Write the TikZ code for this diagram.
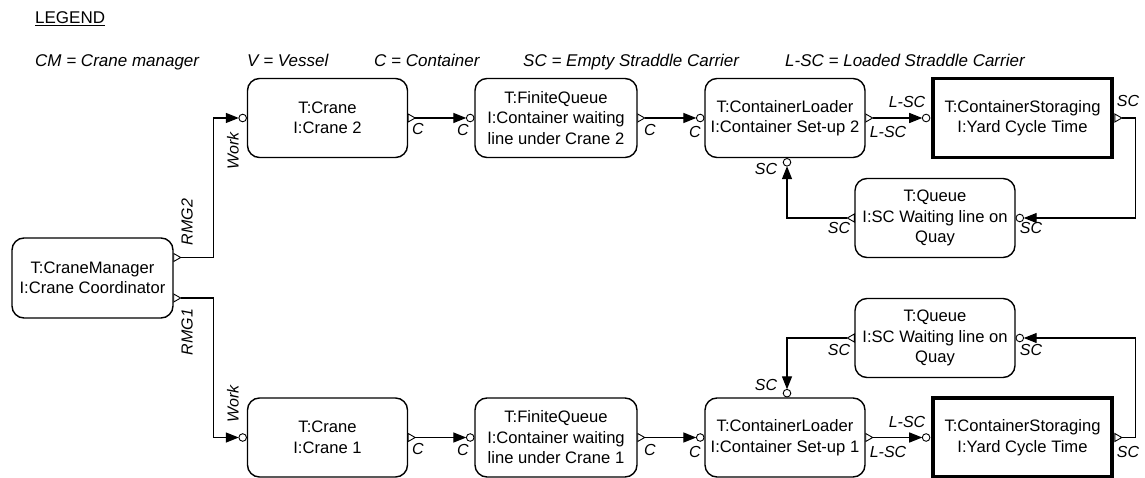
\documentclass[tikz,border=0pt]{standalone}
\usepackage{fontspec}
\setmainfont{Liberation Sans}
\usetikzlibrary{calc,arrows.meta}

\tikzset{
  box/.style={draw, line width=1.4pt, rounded corners=12pt, minimum width=160pt,
    minimum height=79pt, inner sep=0pt, align=center,
    font=\fontsize{16.6}{20.5}\selectfont},
  storebox/.style={box, sharp corners, line width=3.2pt, minimum width=179pt},
  port/.style={draw, line width=0.9pt, fill=white},
  conn/.style={draw, line width=1.3pt, -{Triangle[length=13pt,width=10pt]}},
  lbl/.style={font=\fontsize{16}{16}\selectfont\itshape, inner sep=0pt},
  legendtxt/.style={font=\fontsize{17}{17}\selectfont, anchor=base west, inner sep=0pt},
}

% output port: open triangle on the border, pointing outwards
\newcommand\portout[3]{%
  \coordinate (#1-e) at #2;
  \coordinate (#1) at ($(#1-e)+(#3:7pt)$);
  \draw[port] ($(#1-e)+(#3+90:4pt)$) -- (#1) -- ($(#1-e)+(#3-90:4pt)$) -- cycle;
}
% input port: small open circle just outside the border
\newcommand\portin[3]{%
  \coordinate (#1-e) at #2;
  \coordinate (#1) at ($(#1-e)+(#3:8pt)$);
  \draw[port] ($(#1-e)+(#3:4.1pt)$) circle[radius=3.8pt];
}

\begin{document}
\begin{tikzpicture}[x=1pt,y=-1pt]
\useasboundingbox (0,0) rectangle (1145,478);

% legend
\node[legendtxt] (leg)  at (35,24) {\underline{LEGEND}};
\node[legendtxt] (lcm)  at (35,67)  {\itshape CM = Crane manager};
\node[legendtxt] (lv)   at (247,67) {\itshape V = Vessel};
\node[legendtxt] (lc)   at (374,67) {\itshape C = Container};
\node[legendtxt] (lsc)  at (523,67) {\itshape SC = Empty Straddle Carrier};
\node[legendtxt] (llsc) at (785,67) {\itshape L-SC = Loaded Straddle Carrier};

% processes
\node[box, minimum width=161pt, minimum height=80pt] (cm) at (92.5,278)
  {T:CraneManager\\I:Crane Coordinator};

\node[box] (crane2) at (327.5,118) {T:Crane\\I:Crane 2};
\node[box, minimum width=162pt] (fq2) at (556,118)
  {T:FiniteQueue\\I:Container waiting\\line under Crane 2};
\node[box] (cl2) at (785,118) {T:ContainerLoader\\I:Container Set-up 2};
\node[storebox] (cs2) at (1022.5,118) {T:ContainerStoraging\\I:Yard Cycle Time};
\node[box] (q2) at (935,218) {T:Queue\\I:SC Waiting line on\\Quay};

\node[box] (q1) at (935,338) {T:Queue\\I:SC Waiting line on\\Quay};
\node[box] (crane1) at (327.5,437.5) {T:Crane\\I:Crane 1};
\node[box, minimum width=162pt] (fq1) at (556,437.5)
  {T:FiniteQueue\\I:Container waiting\\line under Crane 1};
\node[box] (cl1) at (785,437.5) {T:ContainerLoader\\I:Container Set-up 1};
\node[storebox] (cs1) at (1022.5,437.5) {T:ContainerStoraging\\I:Yard Cycle Time};

% ports
\portout{cm-o2}{([yshift=20.5pt]cm.east)}{0}
\portout{cm-o1}{([yshift=-20pt]cm.east)}{0}

\portin{c2-in}{(crane2.west)}{180}
\portout{c2-out}{(crane2.east)}{0}
\portin{fq2-in}{(fq2.west)}{180}
\portout{fq2-out}{(fq2.east)}{0}
\portin{cl2-in}{(cl2.west)}{180}
\portout{cl2-out}{(cl2.east)}{0}
\portin{cs2-in}{([xshift=-1.2pt]cs2.west)}{180}
\portout{cs2-out}{([xshift=1.2pt]cs2.east)}{0}
\portin{q2-in}{(q2.east)}{0}
\portout{q2-out}{(q2.west)}{180}
\portin{cl2-inb}{([xshift=2pt]cl2.south)}{-90}

\portin{c1-in}{(crane1.west)}{180}
\portout{c1-out}{(crane1.east)}{0}
\portin{fq1-in}{(fq1.west)}{180}
\portout{fq1-out}{(fq1.east)}{0}
\portin{cl1-in}{(cl1.west)}{180}
\portout{cl1-out}{(cl1.east)}{0}
\portin{cs1-in}{([xshift=-1.2pt]cs1.west)}{180}
\portout{cs1-out}{([xshift=1.2pt]cs1.east)}{0}
\portin{q1-in}{(q1.east)}{0}
\portout{q1-out}{(q1.west)}{180}
\portin{cl1-int}{([xshift=2pt]cl1.north)}{90}

% connectors
\draw[conn] (cm-o2) -| ([xshift=-25.5pt]c2-in) -- (c2-in);
\draw[conn] (cm-o1) -| ([xshift=-25.5pt]c1-in) -- (c1-in);

\draw[conn] (c2-out) -- (fq2-in);
\draw[conn] (fq2-out) -- (cl2-in);
\draw[conn] (cl2-out) -- (cs2-in);
\draw[conn] (cs2-out) -- ([xshift=14pt]cs2-out) |- (q2-in);
\draw[conn] (q2-out) -| (cl2-inb);

\draw[conn] (c1-out) -- (fq1-in);
\draw[conn] (fq1-out) -- (cl1-in);
\draw[conn] (cl1-out) -- (cs1-in);
\draw[conn] (cs1-out) -- ([xshift=14pt]cs1-out) |- (q1-in);
\draw[conn] (q1-out) -| (cl1-int);

% connector labels
\node[lbl, rotate=90] (t-rmg2) at (187,222) {RMG2};
\node[lbl, rotate=90] (t-rmg1) at (187,332) {RMG1};
\node[lbl, rotate=90] (t-work2) at (233,151) {Work};
\node[lbl, rotate=90] (t-work1) at (233,404) {Work};

\node[lbl] (t-c2a) at (418,129) {C};
\node[lbl] (t-c2b) at (463,130) {C};
\node[lbl] (t-c2c) at (650,130) {C};
\node[lbl] (t-c2d) at (695,132) {C};
\node[lbl] (t-c1a) at (418,449) {C};
\node[lbl] (t-c1b) at (463,450) {C};
\node[lbl] (t-c1c) at (650,450) {C};
\node[lbl] (t-c1d) at (695,452) {C};

\node[lbl] (t-l2a) at (907,102) {L-SC};
\node[lbl] (t-l2b) at (888,132) {L-SC};
\node[lbl] (t-l1a) at (907,422) {L-SC};
\node[lbl] (t-l1b) at (888,452) {L-SC};

\node[lbl] (t-s2a) at (1128,101) {SC};
\node[lbl] (t-s2b) at (1031,228) {SC};
\node[lbl] (t-s2c) at (839,228) {SC};
\node[lbl] (t-s2d) at (766,169) {SC};
\node[lbl] (t-s1a) at (1128,452) {SC};
\node[lbl] (t-s1b) at (1031,350) {SC};
\node[lbl] (t-s1c) at (839,350) {SC};
\node[lbl] (t-s1d) at (766,385) {SC};
\end{tikzpicture}
\end{document}
